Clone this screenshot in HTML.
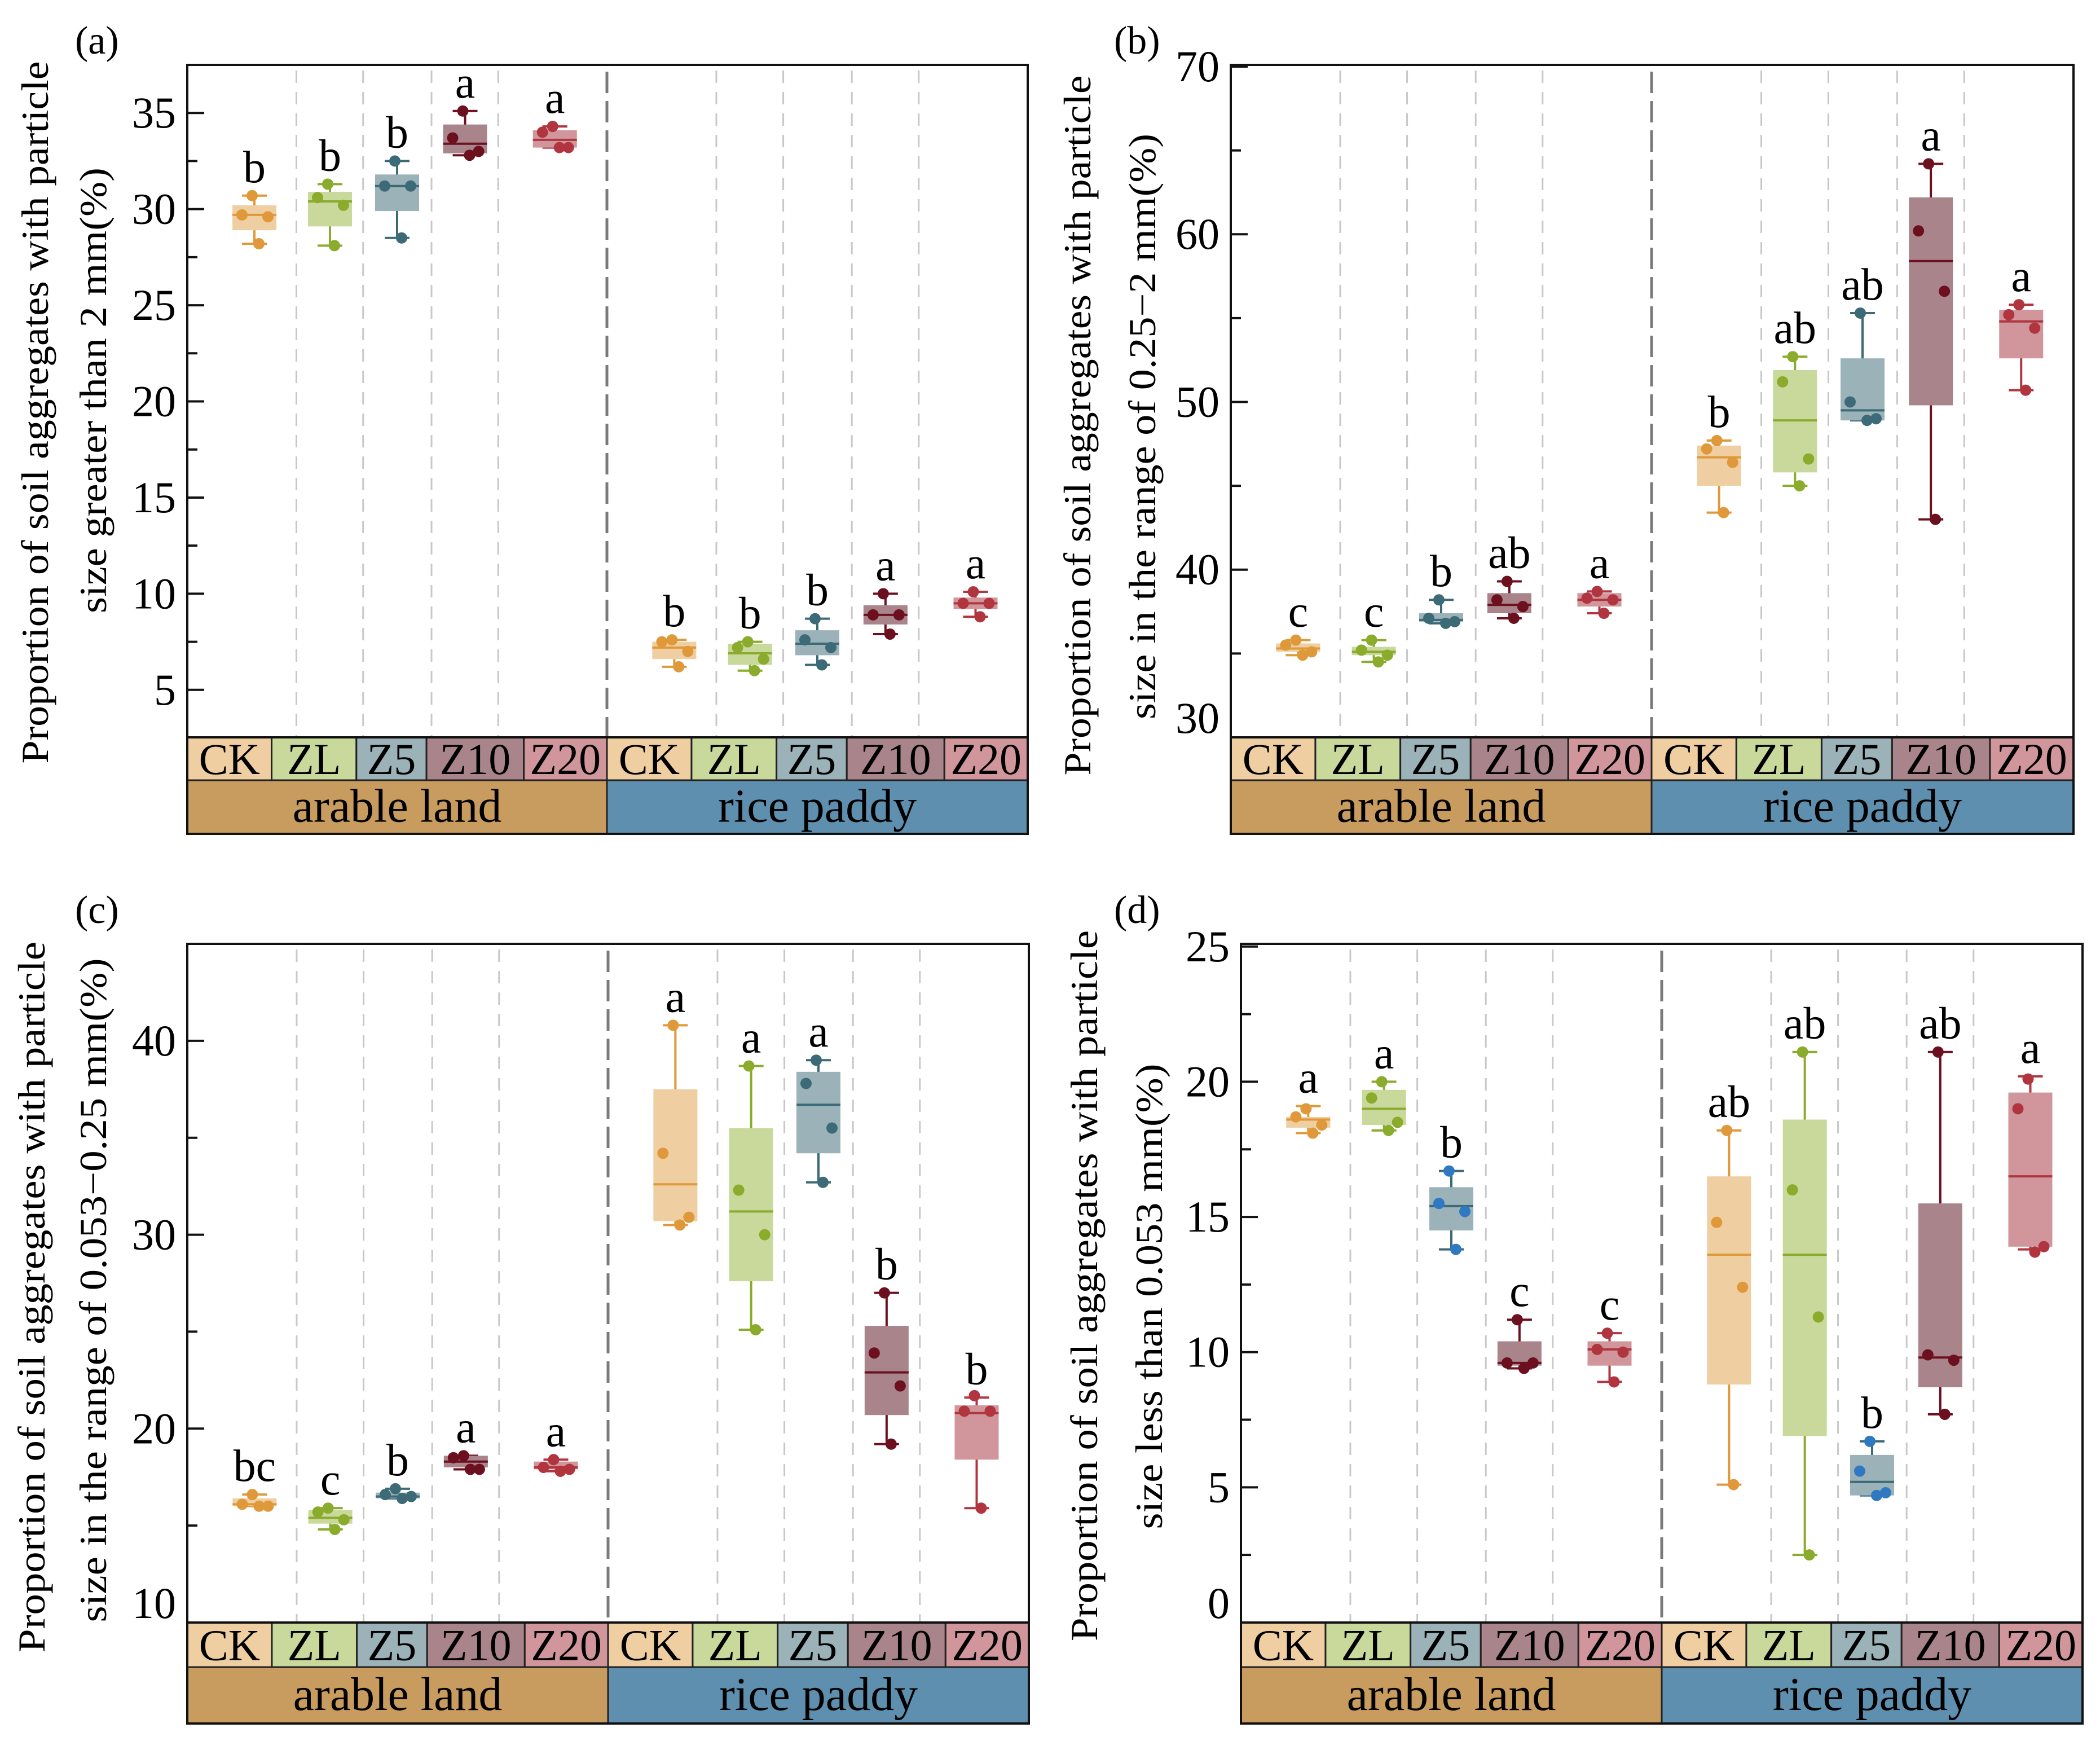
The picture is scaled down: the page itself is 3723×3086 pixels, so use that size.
<!DOCTYPE html>
<html><head><meta charset="utf-8"><style>
html,body{margin:0;padding:0;background:#fff;}
svg{display:block;}
text{font-family:"Times New Roman","Liberation Serif",Times,"DejaVu Serif",serif;}
</style></head><body>
<svg id="chart" width="3723" height="3086" viewBox="0 0 3723 3086" xmlns="http://www.w3.org/2000/svg"></svg>
<script>
const categories = ["CK","ZL","Z5","Z10","Z20"];
const groups = ["arable land","rice paddy"];
// Panel (a) >2 mm
const aQ1 = [28.9,29.1,29.9,32.9,33.2, 6.6,6.3,6.8,8.4,9.2];
const aMed = [29.7,30.4,31.2,33.4,33.6, 7.2,6.9,7.4,8.9,9.5];
const aQ3 = [30.2,30.9,31.8,34.4,34.1, 7.5,7.4,8.1,9.4,9.8];
const aLo = [28.2,28.1,28.5,32.8,33.2, 6.2,6.0,6.3,7.9,8.8];
const aHi = [30.7,31.3,32.5,35.1,34.3, 7.6,7.5,8.7,10.0,10.1];
const aPts = [[30.7,29.7,29.6,28.2],[31.3,30.6,30.2,28.1],[32.5,31.2,31.2,28.5],[35.1,33.7,33.0,32.8],[34.3,34.0,33.2,33.2],
  [7.6,7.5,7.0,6.2],[7.5,7.2,6.6,6.0],[8.7,7.6,7.2,6.3],[10.0,8.9,8.9,7.9],[10.1,9.5,9.5,8.8]];
const aLetters = ["b","b","b","a","a","b","b","b","a","a"];
const aTicks = [5,10,15,20,25,30,35];
// Panel (b) 0.25-2 mm
const bQ1 = [35.1,34.9,36.9,37.4,37.8, 45.0,45.8,48.9,49.8,52.6];
const bMed = [35.3,35.1,37.0,37.9,38.2, 46.7,48.9,49.5,58.4,54.8];
const bQ3 = [35.6,35.4,37.4,38.6,38.6, 47.4,51.9,52.6,62.2,55.5];
const bLo = [34.9,34.5,36.8,37.1,37.4, 43.4,45.0,48.9,43.0,50.7];
const bHi = [35.8,35.8,38.2,39.3,38.7, 47.7,52.7,55.3,64.2,55.8];
const bPts = [[35.8,35.5,35.1,34.9],[35.8,35.2,34.9,34.5],[38.2,37.1,36.9,36.8],[39.3,38.2,37.8,37.1],[38.7,38.3,38.2,37.4],
  [47.7,47.2,46.4,43.4],[52.7,51.2,46.6,45.0],[55.3,50.0,49.0,48.9],[64.2,60.2,56.6,43.0],[55.8,55.2,54.4,50.7]];
const bLetters = ["c","c","b","ab","a","b","ab","ab","a","a"];
const bTicks = [30,40,50,60,70];
// Panel (c) 0.053-0.25 mm
const cQ1 = [16.0,15.1,16.4,18.0,17.9, 30.7,27.6,34.2,20.7,18.4];
const cMed = [16.1,15.4,16.5,18.3,18.0, 32.6,31.2,36.7,22.9,20.8];
const cQ3 = [16.4,15.8,16.7,18.6,18.3, 37.5,35.5,38.4,25.3,21.2];
const cLo = [16.0,14.8,16.4,17.9,17.8, 30.5,25.1,32.7,19.2,15.9];
const cHi = [16.6,15.9,16.9,18.6,18.4, 40.8,38.7,39.0,27.0,21.6];
const cPts = [[16.6,16.1,16.0,16.0],[15.9,15.7,15.3,14.8],[16.9,16.6,16.5,16.4],[18.6,18.5,17.9,17.9],[18.4,18.0,17.9,17.8],
  [40.8,34.2,30.9,30.5],[38.7,32.3,30.0,25.1],[39.0,37.8,35.5,32.7],[27.0,23.9,22.2,19.2],[21.7,20.9,20.9,15.9]];
const cLetters = ["bc","c","b","a","a","a","a","a","b","b"];
const cTicks = [10,20,30,40];
// Panel (d) <0.053 mm
const dQ1 = [18.3,18.4,14.5,9.5,9.5, 8.8,6.9,4.7,8.7,13.9];
const dMed = [18.6,19.0,15.4,9.6,10.1, 13.6,13.6,5.2,9.8,16.5];
const dQ3 = [18.7,19.7,16.1,10.4,10.4, 16.5,18.6,6.2,15.5,19.6];
const dLo = [18.1,18.2,13.8,9.4,8.9, 5.1,2.5,4.7,7.7,13.8];
const dHi = [19.1,20.0,16.7,11.2,10.7, 18.2,21.1,6.7,21.1,20.2];
const dPts = [[19.0,18.7,18.4,18.1],[20.0,19.4,18.5,18.2],[16.7,15.5,15.2,13.8],[11.2,9.6,9.6,9.4],[10.7,10.1,10.0,8.9],
  [18.2,14.8,12.4,5.1],[21.1,16.0,11.3,2.5],[6.7,5.6,4.8,4.7],[21.1,9.9,9.7,7.7],[20.1,19.0,13.9,13.7]];
const dLetters = ["a","a","b","c","c","ab","ab","b","ab","a"];
const dTicks = [0,5,10,15,20,25];

const lineCol = ["#e0993a","#8aab2c","#3d6a77","#6c1020","#b0353f"];
const fillCol = ["#efcfa2","#c9d99b","#9bb2b9","#a9858b","#d0969b"];
const NS = "http://www.w3.org/2000/svg";
const svg = document.getElementById("chart");
function mk(tag, attrs, parent, txt){
  const e = document.createElementNS(NS, tag);
  for (const k in attrs) e.setAttribute(k, attrs[k]);
  if (txt !== undefined) e.textContent = txt;
  (parent||svg).appendChild(e);
  return e;
}
const centerFr = [0.160,0.340,0.500,0.662,0.876];
const dashFr = [0.260,0.419,0.582,0.741];
const cellFr = [0,0.201,0.403,0.570,0.802,1];

const panels = [
 {id:"a",L:332,R:1822,S:1076,T:115,B:1307,RB:1383,GB:1478,ymin:2.53,ymax:37.5,ticks:aTicks,minor:2.5,
  q1:aQ1,med:aMed,q3:aQ3,lo:aLo,hi:aHi,pts:aPts,let:aLetters,lab:"(a)",labX:133,labY:95,
  t1:{x:85,c:731,len:1245,s:"Proportion of soil aggregates with particle"},t2:{x:188,c:692,len:790,s:"size greater than 2 mm(%)"}},
 {id:"b",L:2182,R:3676,S:2928,T:115,B:1307,RB:1383,GB:1478,ymin:30,ymax:70.1,ticks:bTicks,minor:5,
  q1:bQ1,med:bMed,q3:bQ3,lo:bLo,hi:bHi,pts:bPts,let:bLetters,lab:"(b)",labX:1975,labY:95,
  t1:{x:1933,c:754,len:1241,s:"Proportion of soil aggregates with particle"},t2:{x:2048,c:756,len:1038,s:"size in the range of 0.25\u22122 mm(%)"}},
 {id:"c",L:332,R:1824,S:1078,T:1673,B:2876,RB:2955,GB:3055,ymin:10,ymax:45,ticks:cTicks,minor:5,
  q1:cQ1,med:cMed,q3:cQ3,lo:cLo,hi:cHi,pts:cPts,let:cLetters,lab:"(c)",labX:133,labY:1636,
  t1:{x:79,c:2299,len:1260,s:"Proportion of soil aggregates with particle"},t2:{x:188,c:2287,len:1177,s:"size in the range of 0.053\u22120.25 mm(%)"}},
 {id:"d",L:2200,R:3692,S:2946,T:1673,B:2876,RB:2955,GB:3055,ymin:0,ymax:25.1,ticks:dTicks,minor:2.5,
  q1:dQ1,med:dMed,q3:dQ3,lo:dLo,hi:dHi,pts:dPts,let:dLetters,lab:"(d)",labX:1975,labY:1636,blueZ5:true,
  t1:{x:1945,c:2279,len:1260,s:"Proportion of soil aggregates with particle"},t2:{x:2060,c:2298,len:825,s:"size less than 0.053 mm(%)"}}
];

panels.forEach(p=>{
  const g = mk("g",{});
  
  
  const y = v => p.B - (v - p.ymin)/(p.ymax - p.ymin)*(p.B - p.T);
  const halves = [[p.L,p.S-p.L],[p.S,p.R-p.S]];
  const xc = i => { const h = halves[Math.floor(i/5)]; return h[0] + centerFr[i%5]*h[1]; };
  const pl = mk("text",{x:p.labX,y:p.labY,"font-size":70},g,p.lab);
  
  
  [p.t1,p.t2].forEach((t,k)=>{
    const e = mk("text",{x:0,y:0,"font-size":68,"text-anchor":"middle",textLength:t.len,lengthAdjust:"spacingAndGlyphs",
      transform:`translate(${t.x},${t.c}) rotate(-90)`},g,t.s);
    
    
  });
  halves.forEach(h=>{
    dashFr.forEach(f=>{
      const l = mk("line",{x1:h[0]+f*h[1],x2:h[0]+f*h[1],y1:p.T+10,y2:p.B,stroke:"#c8c8c8","stroke-width":3,"stroke-dasharray":"22 16"},g);
      
      
    });
  });
  const sep = mk("line",{x1:p.S,x2:p.S,y1:p.T+12,y2:p.B,stroke:"#7a7a7a","stroke-width":5,"stroke-dasharray":"38 14"},g);
  
  
  for (let v = Math.ceil(p.ymin/p.minor)*p.minor; v <= p.ymax+1e-6; v += p.minor){
    const major = p.ticks.some(t=>Math.abs(t-v)<1e-6);
    const tk = mk("line",{x1:p.L,x2:p.L+(major?30:18),y1:y(v),y2:y(v),stroke:"#111","stroke-width":4},g);
    
    
  }
  p.ticks.forEach(v=>{
    let yy = y(v)+26;
    if (yy > p.B - 5) yy = p.B - 8;
    const tl = mk("text",{x:p.L-20,y:yy,"font-size":78,"text-anchor":"end"},g,String(v));
    
    
  });
  for (let i=0;i<10;i++){
    const c = i%5, x = xc(i), lc = lineCol[c];
    const bg = mk("g",{},g);
    
    
    mk("line",{x1:x,x2:x,y1:y(p.hi[i]),y2:y(p.lo[i]),stroke:lc,"stroke-width":4},bg);
    mk("line",{x1:x-22,x2:x+22,y1:y(p.hi[i]),y2:y(p.hi[i]),stroke:lc,"stroke-width":4},bg);
    mk("line",{x1:x-22,x2:x+22,y1:y(p.lo[i]),y2:y(p.lo[i]),stroke:lc,"stroke-width":4},bg);
    mk("rect",{x:x-39,y:y(p.q3[i]),width:78,height:Math.max(2,y(p.q1[i])-y(p.q3[i])),fill:fillCol[c]},bg);
    mk("line",{x1:x-39,x2:x+39,y1:y(p.med[i]),y2:y(p.med[i]),stroke:lc,"stroke-width":4},bg);
    const pc = (p.blueZ5 && c===2) ? "#2f78c2" : lc;
    const jit = [-4,-22,24,8];
    p.pts[i].forEach((v,k)=>{
      const d = mk("circle",{cx:x+jit[k],cy:y(v),r:10,fill:pc},bg);
      
      
    });
    const lt = mk("text",{x:x,y:y(p.hi[i])-24,"font-size":80,"text-anchor":"middle"},g,p.let[i]);
    
    
  }
  halves.forEach((h,gi)=>{
    for (let c=0;c<5;c++){
      const x0 = h[0]+cellFr[c]*h[1], x1 = h[0]+cellFr[c+1]*h[1];
      const r = mk("rect",{x:x0,y:p.B,width:x1-x0,height:p.RB-p.B,fill:fillCol[c],stroke:"#222","stroke-width":3},g);
      
      
      const t = mk("text",{x:(x0+x1)/2,y:(p.B+p.RB)/2+27,"font-size":78,"text-anchor":"middle"},g,categories[c]);
      
      
    }
    const gr = mk("rect",{x:h[0],y:p.RB,width:h[1],height:p.GB-p.RB,fill:gi===0?"#c89b5e":"#5f8fae",stroke:"#222","stroke-width":3},g);
    
    
    const gt = mk("text",{x:h[0]+h[1]/2,y:(p.RB+p.GB)/2+26,"font-size":84,"text-anchor":"middle"},g,groups[gi]);
    
    
  });
  const fr = mk("rect",{x:p.L,y:p.T,width:p.R-p.L,height:p.GB-p.T,fill:"none",stroke:"#111","stroke-width":4},g);
  
  
  const bl = mk("line",{x1:p.L,x2:p.R,y1:p.B,y2:p.B,stroke:"#111","stroke-width":4},g);
  
  
});
</script>
</body></html>
